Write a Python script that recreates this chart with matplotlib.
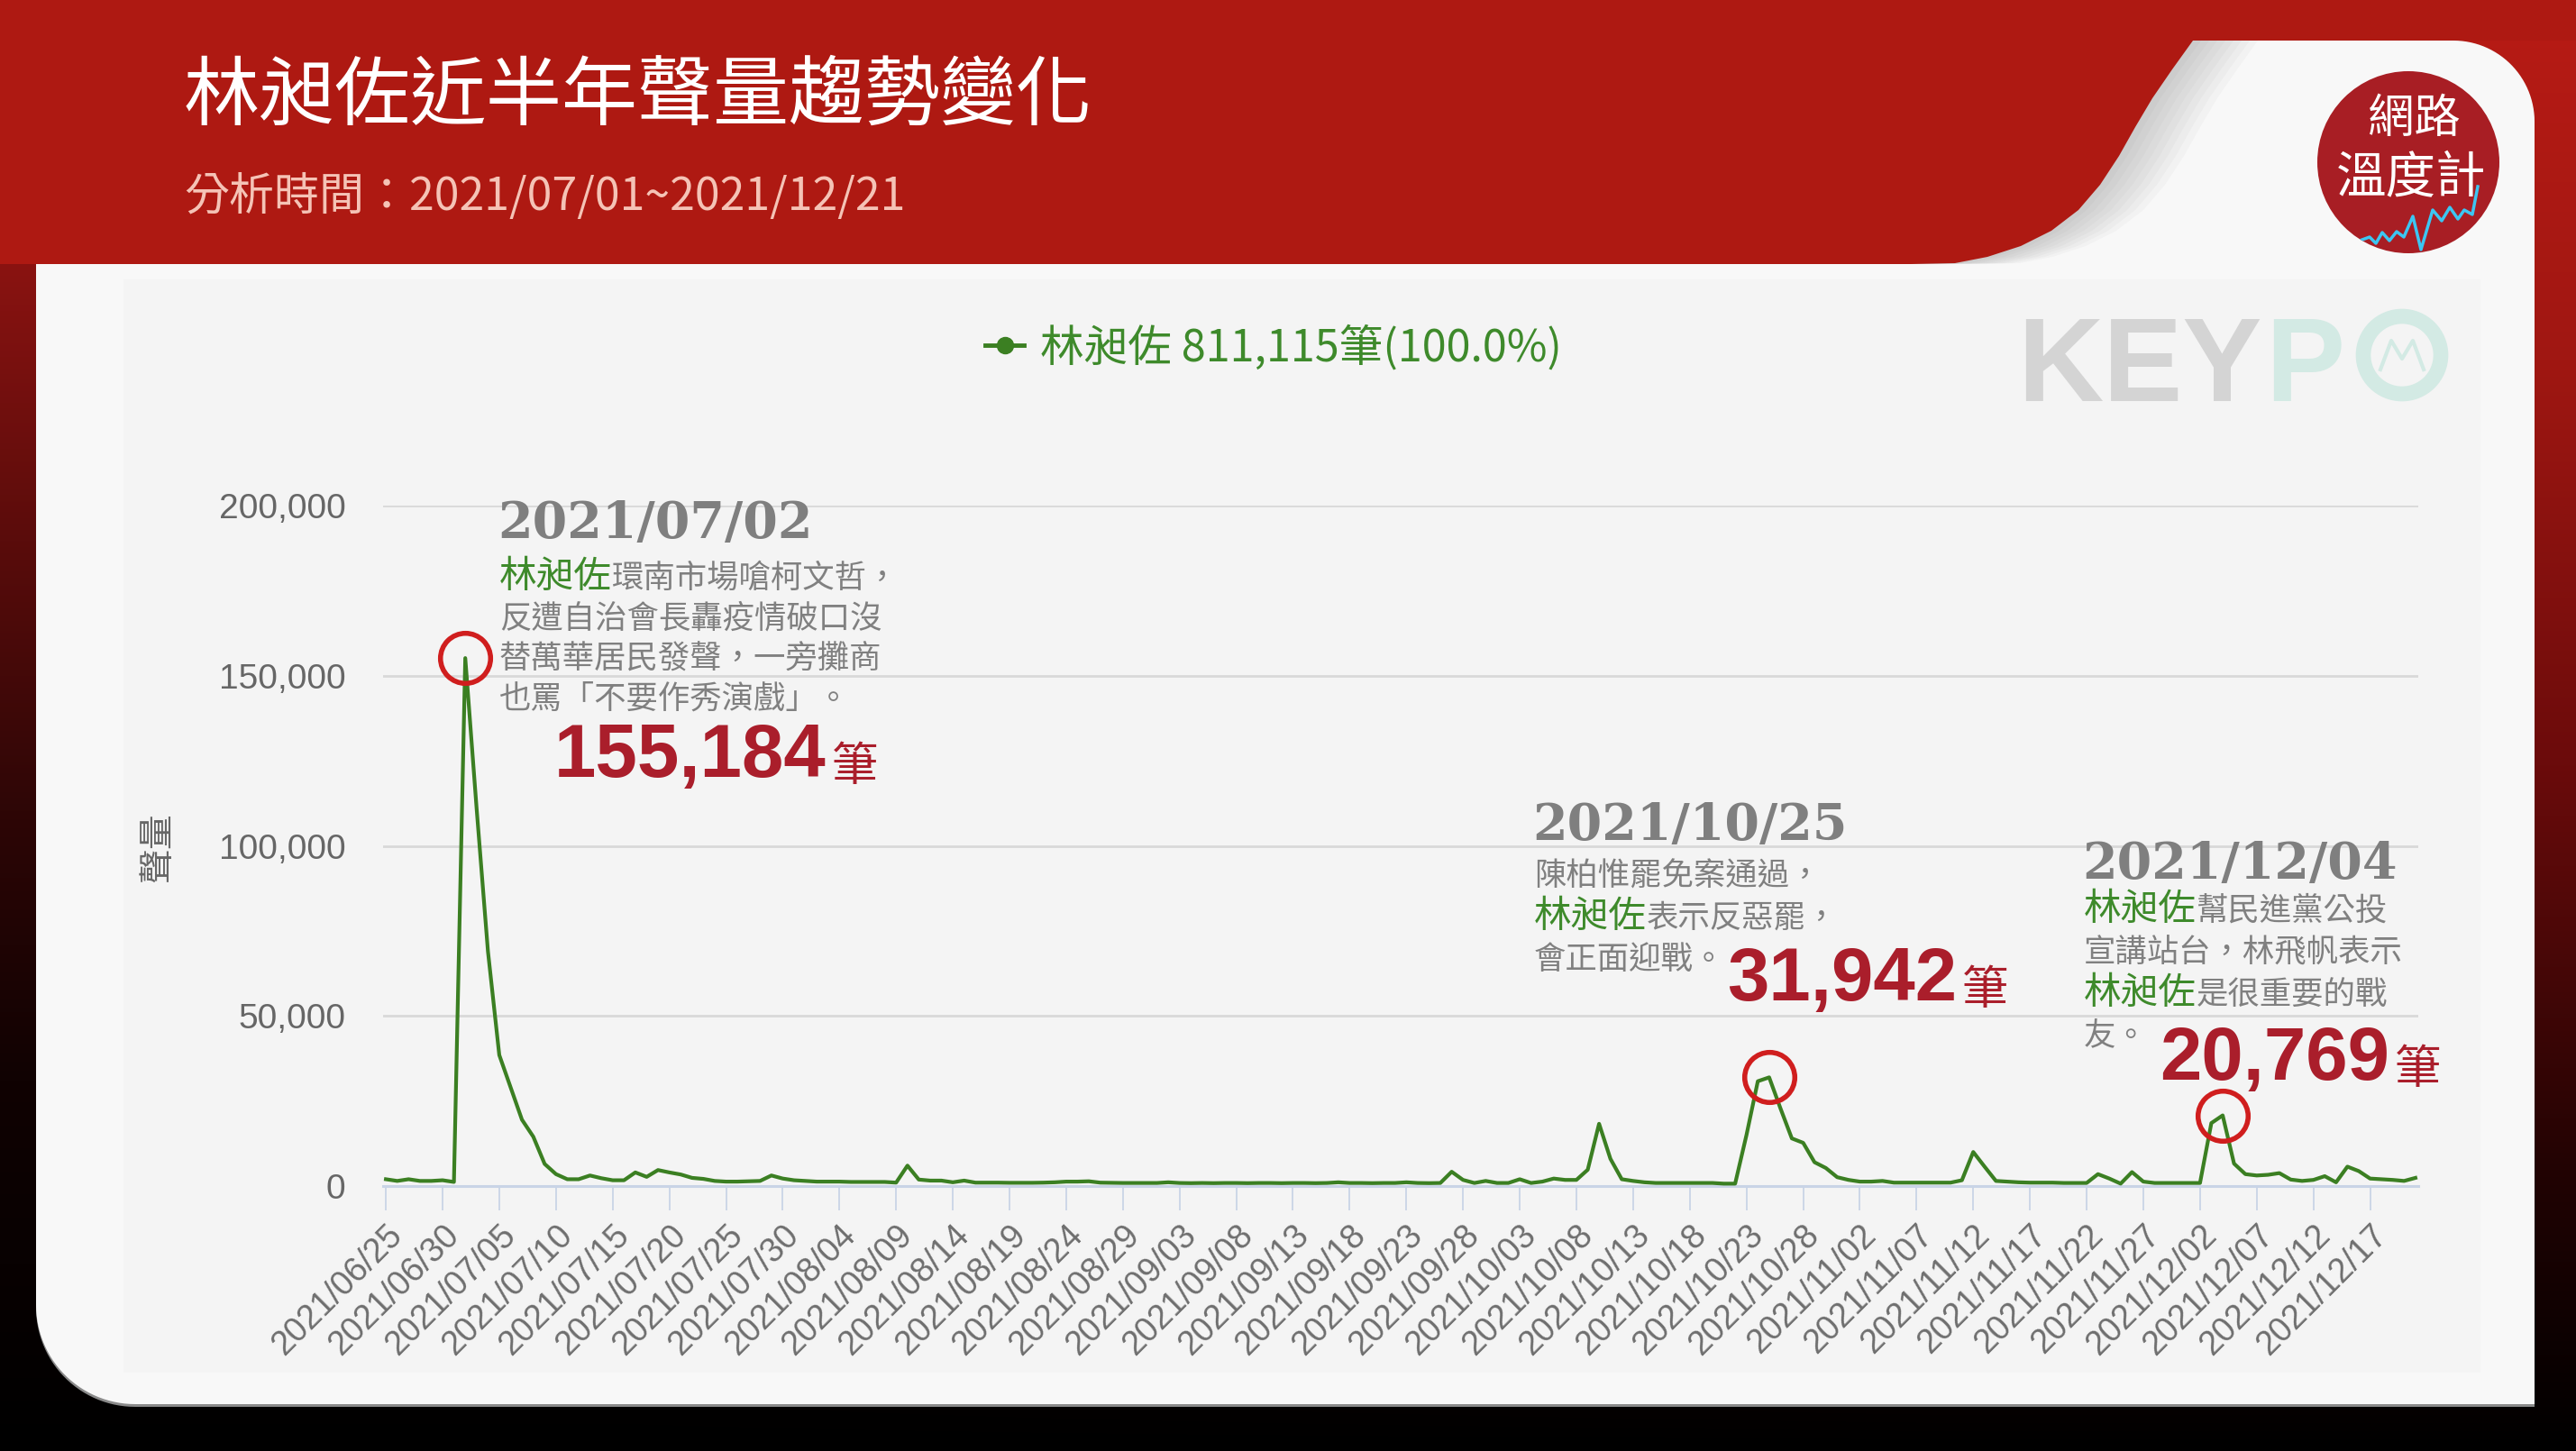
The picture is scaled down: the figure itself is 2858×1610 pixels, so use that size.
import numpy as np
import pandas as pd
import matplotlib
matplotlib.use("Agg")
import matplotlib.pyplot as plt
from matplotlib.patches import Polygon, Circle, Rectangle
from matplotlib.lines import Line2D

plt.rcParams['font.family'] = ['Noto Sans CJK TC', 'DejaVu Sans']

W, H = 2858, 1610

# ------------------------------------------------------------
# Datos (聲量 diario, 2021/06/25 ~ 2021/12/21)
# ------------------------------------------------------------
start_date = "2021-06-25"
end_date = "2021-12-21"

vol_jun = [2000, 1500, 2000, 1500, 1500, 1700]
vol_jul = [1200, 155184, 111000, 69000, 38500, 29000, 19500, 14500, 6500, 3500,
           2000, 2000, 3100, 2300, 1700, 1700, 4000, 2700, 4700, 4000,
           3400, 2400, 2100, 1500, 1300, 1300, 1400, 1500, 3100, 2200, 1700]
vol_aug = [1500, 1300, 1300, 1300, 1200, 1200, 1200, 1200, 1000, 6000,
           1900, 1600, 1600, 1100, 1600, 1000, 1000, 1000, 950, 950,
           950, 1000, 1100, 1300, 1300, 1400, 1000, 950, 900, 900, 900]
vol_sep = [900, 1100, 900, 850, 900, 850, 900, 900, 850, 900,
           900, 850, 900, 900, 850, 900, 1100, 900, 900, 850,
           900, 900, 1100, 900, 850, 900, 4200, 1800, 900, 1500]
vol_oct = [900, 900, 2000, 900, 1300, 2200, 1800, 1800, 4800, 18300,
           8000, 2000, 1500, 1100, 900, 900, 900, 900, 900, 900,
           700, 700, 15000, 30800, 31942, 22800, 14000, 12700, 7000, 5300, 2600]
vol_nov = [1800, 1300, 1300, 1500, 1000, 1000, 1000, 1000, 1000, 1000,
           1700, 10000, 5700, 1500, 1300, 1100, 1000, 1000, 1000, 900,
           900, 900, 3500, 2200, 700, 4100, 1300, 900, 900, 900]
vol_dec = [900, 900, 18500, 20769, 6600, 3500, 3100, 3300, 3800, 1900,
           1500, 1800, 2900, 1100, 5700, 4400, 2200, 2000, 1800, 1500, 2400]

volume = vol_jun + vol_jul + vol_aug + vol_sep + vol_oct + vol_nov + vol_dec
dates = pd.date_range(start_date, end_date, freq="D")

yticks = [0, 50000, 100000, 150000, 200000]
legend_label = "林昶佐 811,115筆(100.0%)"
peak_dates = ["2021-07-02", "2021-10-25", "2021-12-04"]

title = "林昶佐近半年聲量趨勢變化"
subtitle = "分析時間：2021/07/01~2021/12/21"

# notas de cada pico: (texto, es_nombre)
notes = [
    [[("林昶佐", True), ("環南市場嗆柯文哲，", False)],
     [("反遭自治會長轟疫情破口沒", False)],
     [("替萬華居民發聲，一旁攤商", False)],
     [("也罵「不要作秀演戲」。", False)]],
    [[("陳柏惟罷免案通過，", False)],
     [("林昶佐", True), ("表示反惡罷，", False)],
     [("會正面迎戰。", False)]],
    [[("林昶佐", True), ("幫民進黨公投", False)],
     [("宣講站台，林飛帆表示", False)],
     [("林昶佐", True), ("是很重要的戰", False)],
     [("友。", False)]],
]

# colores
GREEN_LINE = "#3B7F22"
GREEN_TEXT = "#3E8A2B"
GRAY_TEXT = "#808080"
RED_NUM = "#AA1E2B"
RED_RING = "#D01E1E"
BANNER = "#AE1912"

# ------------------------------------------------------------
# Fondo (coordenadas en pixeles, y hacia abajo)
# ------------------------------------------------------------
fig = plt.figure(figsize=(W / 100, H / 100), dpi=100)
bg = fig.add_axes([0, 0, 1, 1], zorder=-5)
bg.set_xlim(0, W)
bg.set_ylim(H, 0)
bg.axis("off")


def hex_rgb(h):
    h = h.lstrip("#")
    return np.array([int(h[i:i + 2], 16) for i in (0, 2, 4)]) / 255.0


def gradiente(paradas, ys):
    pos = [p[0] for p in paradas]
    cols = np.array([hex_rgb(p[1]) for p in paradas])
    return np.stack([np.interp(ys, pos, cols[:, k]) for k in range(3)], axis=1)


ys = np.linspace(0, H, 200)
izq = gradiente([(0, "#8E1410"), (292, "#8A1311"), (600, "#5A0C0B"),
                 (900, "#2E0606"), (1200, "#100202"), (1610, "#000000")], ys)
der = gradiente([(0, "#B81B15"), (400, "#A01712"), (850, "#6B0B0B"),
                 (1300, "#220303"), (1610, "#000000")], ys)
img = np.stack([izq, der], axis=1)
bg.imshow(img, extent=(0, W, H, 0), aspect="auto", interpolation="bilinear")


def tarjeta(x0, y0, x1, y1, r_tr, r_bl):
    pts = [(x0, y0), (x1 - r_tr, y0)]
    t = np.linspace(-np.pi / 2, 0, 30)
    pts += list(zip(x1 - r_tr + r_tr * np.cos(t), y0 + r_tr + r_tr * np.sin(t)))
    pts += [(x1, y1), (x0 + r_bl, y1)]
    t = np.linspace(np.pi / 2, np.pi, 30)
    pts += list(zip(x0 + r_bl + r_bl * np.cos(t), y1 - r_bl + r_bl * np.sin(t)))
    return pts


bg.add_patch(Polygon(tarjeta(40, 49, 2812, 1561, 90, 110), closed=True,
                     facecolor="#8A8A8A", edgecolor="none"))
bg.add_patch(Polygon(tarjeta(40, 45, 2812, 1558, 90, 110), closed=True,
                     facecolor="#F8F8F8", edgecolor="none"))
bg.add_patch(Rectangle((137, 310), 2752 - 137, 1523 - 310,
                       facecolor="#F4F4F4", edgecolor="none"))

# banda roja con la esquina doblada
curva = [(2433, 45), (2410, 77), (2388, 109), (2369, 141), (2351, 173),
         (2330, 205), (2306, 233), (2276, 256), (2242, 273), (2205, 285),
         (2169, 292), (2120, 293)]
banda = [(0, 0), (W, 0), (W, 45)] + curva + [(0, 293)]
for k in range(1, 9):
    sombra = [(px + 9 * k, py) for px, py in banda]
    bg.add_patch(Polygon(sombra, closed=True, facecolor="#555555",
                         edgecolor="none", alpha=0.035))
bg.add_patch(Polygon(banda, closed=True, facecolor=BANNER, edgecolor="none"))

# logo 網路溫度計
logo = Circle((2672, 180), 101, facecolor="#A81E24", edgecolor="none")
bg.add_patch(logo)
onda_x = [2618, 2629, 2636, 2643, 2651, 2659, 2667, 2677, 2686, 2699, 2709,
          2718, 2727, 2734, 2743, 2749]
onda_y = [267, 263, 270, 258, 267, 257, 263, 240, 277, 233, 245, 230, 243,
          233, 238, 207]
onda, = bg.plot(onda_x, onda_y, color="#3CC6F2", lw=2.5)
onda.set_clip_path(logo)

# marca de agua KEYPO
kp = bg.text(2238, 445, "KEY", color="#D4D4D4", fontsize=95,
             fontweight="bold", family="Liberation Sans", va="baseline")

# ------------------------------------------------------------
# Grafico
# ------------------------------------------------------------
ax = fig.add_axes([425 / W, 1 - 1316 / H, (2683 - 425) / W, (1316 - 561) / H])
ax.patch.set_visible(False)
x = np.arange(len(volume))
ax.plot(x, volume, color=GREEN_LINE, lw=3.0, solid_joinstyle="round", zorder=3)

peak_idx = [dates.get_loc(pd.Timestamp(d)) for d in peak_dates]
ax.plot(peak_idx, [volume[i] for i in peak_idx], "o", ms=40, mfc="none",
        mec=RED_RING, mew=4, zorder=4, clip_on=False)

ax.set_xlim(-0.25, len(volume) - 1 + 0.25)
ax.set_ylim(0, 200000)
ax.set_yticks(yticks)
ax.set_yticklabels([f"{v:,}" for v in yticks])
ax.set_xticks(x[::5])
ax.set_xticklabels(dates[::5].strftime("%Y/%m/%d"), rotation=45, ha="right",
                   rotation_mode="anchor")
ax.grid(axis="y", color="#D9D9D9", lw=2)
ax.set_axisbelow(True)
for s in ["top", "right", "left"]:
    ax.spines[s].set_visible(False)
ax.spines["bottom"].set_color("#C9D4E6")
ax.spines["bottom"].set_linewidth(2.2)
ax.tick_params(axis="y", length=0, pad=30, labelsize=28, labelcolor="#666666")
ax.tick_params(axis="x", length=19.5, width=1.3, color="#C9D4E6", pad=7,
               labelsize=27, labelcolor="#6E6E6E")
for lbl in ax.get_xticklabels() + ax.get_yticklabels():
    lbl.set_fontfamily("Liberation Sans")

fig.legend(handles=[Line2D([], [], color=GREEN_LINE, lw=3.5, marker="o", ms=13)],
           labels=[legend_label], loc="center", bbox_to_anchor=(1413 / W, 1 - 386 / H),
           frameon=False, fontsize=35, labelcolor=GREEN_TEXT, handlelength=0.9,
           handletextpad=0.37)

# ------------------------------------------------------------
# Textos
# ------------------------------------------------------------
renderer = fig.canvas.get_renderer()


def poner(xp, yp, s, **kw):
    return fig.text(xp, yp, s, transform=bg.transData, **kw)


# "PO" de KEYPO
ext = kp.get_window_extent(renderer)
poner(ext.x1 + 4, 445, "P", color="#D3EAE4", fontsize=95, fontweight="bold",
      family="Liberation Sans", va="baseline")
bg.add_patch(Circle((2665, 394), 43, facecolor="none", edgecolor="#D3EAE4", lw=12))
bg.plot([2641, 2653, 2665, 2677, 2689], [410, 378, 398, 378, 410],
        color="#D3EAE4", lw=3)

poner(204, 132, title, color="white", fontsize=60.5, va="baseline")
poner(204, 233, subtitle, color="#F5C3B6", fontsize=36, va="baseline")
poner(175, 940, "聲量", color="#666666", fontsize=28, rotation=90,
      ha="center", va="center")


def linea(xp, yp, trozos):
    for s, es_nombre in trozos:
        t = poner(xp, yp, s, color=GREEN_TEXT if es_nombre else GRAY_TEXT,
                  fontsize=30 if es_nombre else 25.5, va="baseline")
        xp = t.get_window_extent(renderer).x1


def cifra(xp, yp, valor):
    t = poner(xp, yp, f"{valor:,}", color=RED_NUM, fontsize=60, fontweight="bold",
              family="Liberation Sans", va="baseline")
    poner(t.get_window_extent(renderer).x1 + 6, yp + 4, "筆", color=RED_NUM,
          fontsize=37, va="baseline")


# (x fecha, y fecha, y primera linea, paso, x cifra, y cifra)
layout = [
    (552, 597, 652, 44.5, 615, 862),
    (1700, 932, 983, 46.0, 1916, 1110),
    (2310, 975, 1021, 46.5, 2396, 1198),
]
for (xd, yd, y0, paso, xc, yc), nota, i in zip(layout, notes, peak_idx):
    poner(xd, yd, dates[i].strftime("%Y/%m/%d"), color="#7F7F7F", fontsize=40,
          fontweight="bold", family="DejaVu Serif", va="baseline")
    for k, trozos in enumerate(nota):
        linea(xd + 2, y0 + k * paso, trozos)
    cifra(xc, yc, volume[i])

poner(2678, 132, "網路", color="white", fontsize=37, ha="center", va="center")
poner(2675, 199, "溫度計", color="white", fontsize=40, ha="center", va="center")

fig.savefig("out.png", dpi=100, facecolor="black")
